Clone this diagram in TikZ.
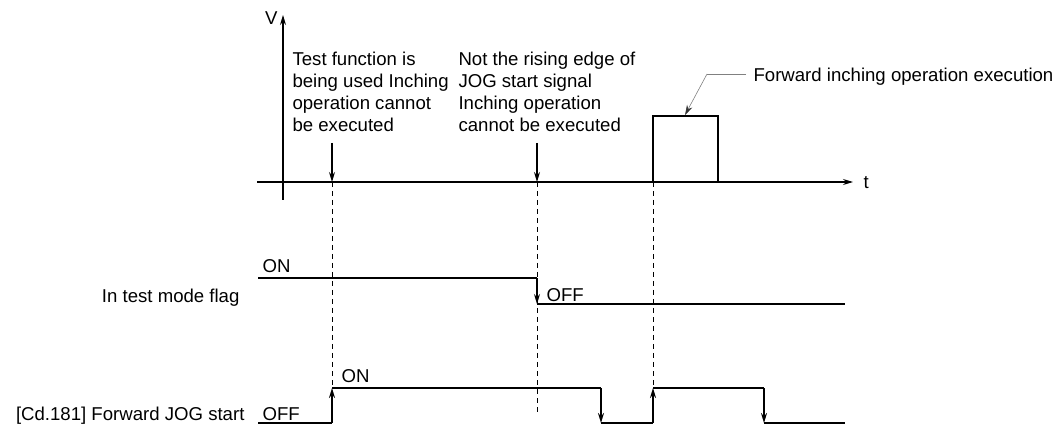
\documentclass[tikz,border=0pt]{standalone}
\usepackage{fontspec}
\setmainfont{Liberation Sans}
\usetikzlibrary{arrows.meta}

\begin{document}
\begin{tikzpicture}[x=1pt, y=-1pt, line width=1.1pt,
  >={Stealth[length=10pt,width=6pt]},
  txt/.style={inner sep=0pt, font=\fontsize{18.6}{22}\selectfont},
  sig/.style={line width=1.7pt},
  guide/.style={line width=0.9pt, dash pattern=on 5pt off 4pt}]
  \useasboundingbox (0,0) rectangle (1055,430);

  % axes
  \coordinate (Vbot) at (283,200);
  \coordinate (Vtop) at (283,15);
  \coordinate (tL) at (257,182);
  \coordinate (tR) at (853,182);
  \draw[->] (Vbot) -- (Vtop);
  \draw[->] (tL) -- (tR);
  \node[txt, anchor=east] (vlab) at (278,18) {V};
  \node[txt, anchor=west] (tlab) at (863,183) {t};

  % time marks on the t axis
  \coordinate (T1) at (332,182);
  \coordinate (T2) at (537,182);
  \coordinate (T3) at (653,182);

  % notes above the axis
  \node[txt, anchor=north west, align=left] (note1) at (292,51)
    {Test function is\\being used Inching\\operation cannot\\be executed};
  \node[txt, anchor=north west, align=left] (note2) at (458,51)
    {Not the rising edge of\\JOG start signal\\Inching operation\\cannot be executed};
  \coordinate (N1) at (332,143);
  \coordinate (N2) at (537,143);
  \draw[->] (N1) -- (T1);
  \draw[->] (N2) -- (T2);

  % forward inching pulse
  \coordinate (pA) at (653,116);
  \coordinate (pB) at (718,116);
  \coordinate (pC) at (718,182);
  \draw[sig] (T3) -- (pA) -- (pB) -- (pC);
  \node[txt, anchor=west] (pulselab) at (753,77) {Forward inching operation execution};
  \coordinate (L0) at (746,74);
  \coordinate (L1) at (707,74);
  \coordinate (L2) at (685,115);
  \draw[gray, line width=0.6pt] (L0) -- (L1);
  \draw[gray, line width=0.6pt, -{Stealth[length=10pt,width=6pt,color=black!80]}] (L1) -- (L2);

  % In test mode flag
  \coordinate (F0) at (258,278);
  \coordinate (F1) at (537,278);
  \coordinate (F2) at (537,304);
  \coordinate (F3) at (845,304);
  \draw (F0) -- (F1);
  \draw[->] (F1) -- (F2);
  \draw (F2) -- (F3);
  \node[txt, anchor=east] (flaglab) at (240,298) {In test mode flag};
  \node[txt, anchor=west] (flagon) at (262,266) {ON};
  \node[txt, anchor=west] (flagoff) at (546,295) {OFF};

  % [Cd.181] Forward JOG start
  \coordinate (J0) at (258,423);
  \coordinate (J1) at (332,423);
  \coordinate (J2) at (332,388);
  \coordinate (J3) at (601,388);
  \coordinate (J4) at (601,423);
  \coordinate (J5) at (653,423);
  \coordinate (J6) at (653,388);
  \coordinate (J7) at (764,388);
  \coordinate (J8) at (764,423);
  \coordinate (J9) at (845,423);
  \draw[sig] (J0) -- (J1);
  \draw[sig, ->] (J1) -- (J2);
  \draw[sig] (J2) -- (J3);
  \draw[sig, ->] (J3) -- (J4);
  \draw[sig] (J4) -- (J5);
  \draw[sig, ->] (J5) -- (J6);
  \draw[sig] (J6) -- (J7);
  \draw[sig, ->] (J7) -- (J8);
  \draw[sig] (J8) -- (J9);
  \node[txt, anchor=east] (joglab) at (245,416) {[Cd.181] Forward JOG start};
  \node[txt, anchor=west] (jogoff) at (262,414) {OFF};
  \node[txt, anchor=west] (jogon) at (341,376) {ON};

  % dashed guides
  \coordinate (D1) at (332,388);
  \coordinate (D2) at (537,413);
  \coordinate (D3) at (653,388);
  \draw[guide] (T1) -- (D1);
  \draw[guide] (T2) -- (D2);
  \draw[guide] (T3) -- (D3);
\end{tikzpicture}
\end{document}
